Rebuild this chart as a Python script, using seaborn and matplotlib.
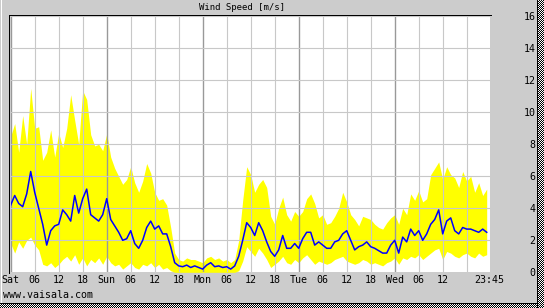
import numpy as np
import pandas as pd
import matplotlib
matplotlib.use("Agg")
import matplotlib.pyplot as plt
import seaborn as sns
from matplotlib.lines import Line2D

# ---------------- data (hourly, starting Sat 00:00) ----------------
avg_speed = [4.2, 4.8, 4.3, 4.1, 4.9, 6.3, 5.0, 4.0, 3.0, 1.7,
             2.6, 2.9, 3.0, 3.9, 3.6, 3.2, 4.8, 3.7, 4.6, 5.2,
             3.6, 3.4, 3.2, 3.6, 4.6, 3.3, 2.9, 2.5, 2.0, 2.1,
             2.6, 1.8, 1.5, 2.0, 2.8, 3.2, 2.7, 2.9, 2.4, 2.4,
             1.6, 0.6, 0.4, 0.35, 0.45, 0.3, 0.4, 0.3, 0.2, 0.45,
             0.6, 0.35, 0.4, 0.3, 0.35, 0.2, 0.4, 1.0, 2.0, 3.1,
             2.8, 2.3, 3.1, 2.6, 1.9, 1.3, 1.0, 1.4, 2.3, 1.5,
             1.5, 1.8, 1.5, 2.1, 2.5, 2.5, 1.7, 1.9, 1.7, 1.5,
             1.5, 1.9, 2.0, 2.4, 2.6, 2.0, 1.4, 1.6, 1.7, 1.9,
             1.6, 1.5, 1.35, 1.2, 1.2, 1.7, 2.0, 1.2, 2.2, 1.9,
             2.7, 2.3, 2.6, 2.0, 2.4, 3.0, 3.3, 3.9, 2.4, 3.2,
             3.4, 2.6, 2.4, 2.8, 2.7, 2.7, 2.6, 2.5, 2.7, 2.5]

max_speed = [8.5, 9.3, 7.5, 9.8, 8.0, 11.5, 9.0, 9.1, 7.0, 7.5,
             8.9, 7.2, 8.7, 7.8, 9.0, 11.1, 9.5, 8.0, 11.35, 10.8,
             8.6, 7.9, 8.0, 7.6, 8.65, 7.2, 6.5, 6.0, 5.5, 5.8,
             6.6, 5.6, 5.0, 5.7, 6.8, 6.2, 5.0, 4.5, 4.6, 4.2,
             2.8, 1.2, 0.8, 0.7, 0.9, 0.8, 0.8, 0.7, 0.6, 0.9,
             1.0, 0.8, 0.9, 0.7, 0.8, 0.6, 0.8, 2.0, 4.5, 6.6,
             6.1, 5.0, 5.5, 5.8, 5.3, 3.5, 3.0, 4.0, 4.7, 3.6,
             3.2, 3.8, 3.5, 3.8, 4.6, 4.9, 4.3, 3.4, 3.6, 3.0,
             3.1, 3.5, 4.0, 5.0, 4.4, 3.6, 3.3, 2.9, 3.5, 3.4,
             3.3, 3.0, 2.8, 2.7, 3.1, 3.4, 3.6, 3.0, 4.0, 3.6,
             4.9, 4.5, 5.1, 4.4, 4.6, 6.1, 6.5, 6.9, 5.8, 6.6,
             6.1, 5.9, 5.3, 6.3, 5.7, 6.0, 5.0, 5.6, 4.8, 5.2]

min_speed = [1.8, 1.2, 1.9, 1.5, 2.0, 2.2, 1.7, 1.4, 0.5, 0.4,
             0.6, 0.3, 0.5, 0.8, 1.0, 0.7, 1.1, 0.5, 0.9, 0.4,
             0.8, 0.6, 0.9, 0.5, 1.0, 0.6, 0.4, 0.5, 0.2, 0.4,
             0.6, 0.3, 0.2, 0.5, 0.4, 0.6, 0.3, 0.5, 0.2, 0.3,
             0.1, 0.0, 0.0, 0.0, 0.0, 0.0, 0.0, 0.0, 0.0, 0.0,
             0.0, 0.0, 0.0, 0.0, 0.0, 0.0, 0.0, 0.1, 0.7, 1.6,
             1.3, 1.0, 1.5, 1.2, 0.8, 0.3, 0.5, 0.7, 1.0, 0.6,
             0.5, 0.8, 0.6, 0.9, 1.1, 0.8, 0.5, 0.7, 0.6, 0.5,
             0.6, 0.8, 0.9, 1.0, 0.7, 0.6, 0.5, 0.6, 0.8, 0.7,
             0.5, 0.6, 0.5, 0.4, 0.6, 0.7, 0.9, 0.5, 0.9, 0.8,
             1.0, 0.9, 1.1, 0.8, 1.0, 1.2, 1.4, 1.5, 0.8, 1.3,
             1.2, 1.0, 0.9, 1.1, 1.2, 1.0, 0.9, 1.2, 1.0, 1.1]

hours = list(range(len(avg_speed)))
x_tick_hours = [0, 6, 12, 18, 24, 30, 36, 42, 48, 54, 60, 66, 72, 78,
                84, 90, 96, 102, 108, 114, 119.75]
x_tick_labels = ["Sat", "06", "12", "18", "Sun", "06", "12", "18", "Mon",
                 "06", "12", "18", "Tue", "06", "12", "18", "Wed", "06",
                 "12", "", "23:45"]
day_hours = [0, 24, 48, 72, 96]
y_ticks = [0, 2, 4, 6, 8, 10, 12, 14, 16]
title_text = "Wind Speed [m/s]"
footer_text = "www.vaisala.com"

df = pd.DataFrame({"hour": hours, "avg": avg_speed,
                   "max": max_speed, "min": min_speed})

# ---------------- figure ----------------
W, H = 544, 308
DPI = 100
BG = "#cccccc"
fig = plt.figure(figsize=(W / DPI, H / DPI), dpi=DPI, facecolor=BG)

left_px, right_px = 10.7, 490.3
top_px, bot_px = 15.0, 272.3
ax = fig.add_axes([left_px / W, 1 - bot_px / H,
                   (right_px - left_px) / W, (bot_px - top_px) / H])
ax.set_facecolor("white")
ax.set_xlim(0, 119.9)
ax.set_ylim(0, 16.08)

# yellow min/max band
ax.fill_between(df["hour"], df["min"], df["max"],
                color="#ffff00", lw=0, zorder=1)

# grid
for h in x_tick_hours[:-1]:
    ax.axvline(h, color="#999999" if h in day_hours else "#c8c8c8",
               lw=1.0 if h in day_hours else 0.8, zorder=2)
for v in y_ticks[1:]:
    ax.axhline(v, color="#c8c8c8", lw=0.8, zorder=2)

# average line
sns.lineplot(data=df, x="hour", y="avg", ax=ax, color="#0000ff",
             lw=1.1, zorder=3, legend=False)

for s in ax.spines.values():
    s.set_visible(False)

mono = "DejaVu Sans Mono"
ax.set_xticks(x_tick_hours)
ax.set_xticklabels(x_tick_labels, fontfamily=mono, fontsize=7.2)
ax.tick_params(axis="x", length=0, pad=2.0, colors="black")
ax.yaxis.tick_right()
ax.set_yticks(y_ticks)
ax.set_yticklabels([str(v) for v in y_ticks], fontfamily=mono, fontsize=7.2)
ax.tick_params(axis="y", length=0, pad=32.5)
for lbl in ax.get_yticklabels():
    lbl.set_horizontalalignment("right")
ax.set_xlabel("")
ax.set_ylabel("")

# frame lines (pixel coordinates)
def px_line(x0, y0, x1, y1, color, lw=0.72):
    fig.add_artist(Line2D([x0 / W, x1 / W], [1 - y0 / H, 1 - y1 / H],
                          transform=fig.transFigure, color=color, lw=lw))

px_line(8.5, 14.5, 490.5, 14.5, "black")
px_line(8.5, 14.5, 8.5, 272.5, "black")
px_line(0.5, 0, 0.5, 303, "white")

# title and footer
fig.text(242 / W, 1 - 7.5 / H, title_text, ha="center", va="center",
         fontfamily=mono, fontsize=6.5)
fig.text(3 / W, 1 - 295.5 / H, footer_text, ha="left", va="center",
         fontfamily=mono, fontsize=7.2)

# dithered shadow border (bottom and right)
def checker(h, w, phase=0):
    yy, xx = np.mgrid[0:h, 0:w]
    return ((xx + yy + phase) % 2).astype(float)

bottom = checker(5, 537)
bottom[0, :] = 0.0
fig.figimage(bottom, xo=0, yo=0, cmap="gray", vmin=0, vmax=1,
             origin="upper", zorder=10)
right = checker(H, 7)
right[:, 0] = 0.0
fig.figimage(right, xo=537, yo=0, cmap="gray", vmin=0, vmax=1,
             origin="upper", zorder=10)

fig.savefig("out.png", dpi=DPI, facecolor=BG)
